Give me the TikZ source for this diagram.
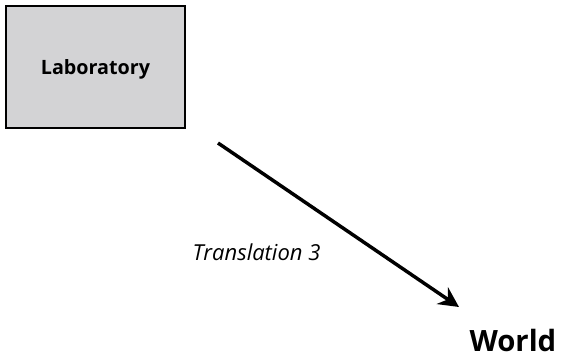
\documentclass[tikz,border=0pt]{standalone}
\usepackage{fontspec}
\setmainfont{Open Sans}
\usetikzlibrary{arrows.meta}

\tikzset{every picture/.style={line width=0.75pt}}
\definecolor{labgray}{RGB}{211,211,213}

\begin{document}
\begin{tikzpicture}[x=0.75pt,y=0.75pt,yscale=-1,xscale=1]
	\useasboundingbox (0,0) rectangle (561,356);
	
	%Shape: Rectangle [id:lab] 
	\draw [fill=labgray, line width=1.5] (6,6) rectangle (185,128) ;
	%Straight Lines [id:translation] 
	\coordinate (from) at (218,143) ;
	\coordinate (to) at (459,307) ;
	\draw [line width=2.6, -{Stealth[length=15, width=15]}] (from) -- (to) ;
	
	% Text Node
	\node (lab) [anchor=base, inner sep=0.75pt, font=\fontsize{14.8}{17}\bfseries\selectfont] at (95.5,75) {Laboratory};
	% Text Node
	\node (trans) [anchor=base west, inner sep=0.75pt, font=\fontsize{16.5}{19}\itshape\selectfont] at (191,261) {Translation 3};
	% Text Node
	\node (world) [anchor=base west, inner sep=0pt, font=\fontsize{22}{26}\bfseries\selectfont] at (469,351) {World};
	
\end{tikzpicture}
\end{document}
